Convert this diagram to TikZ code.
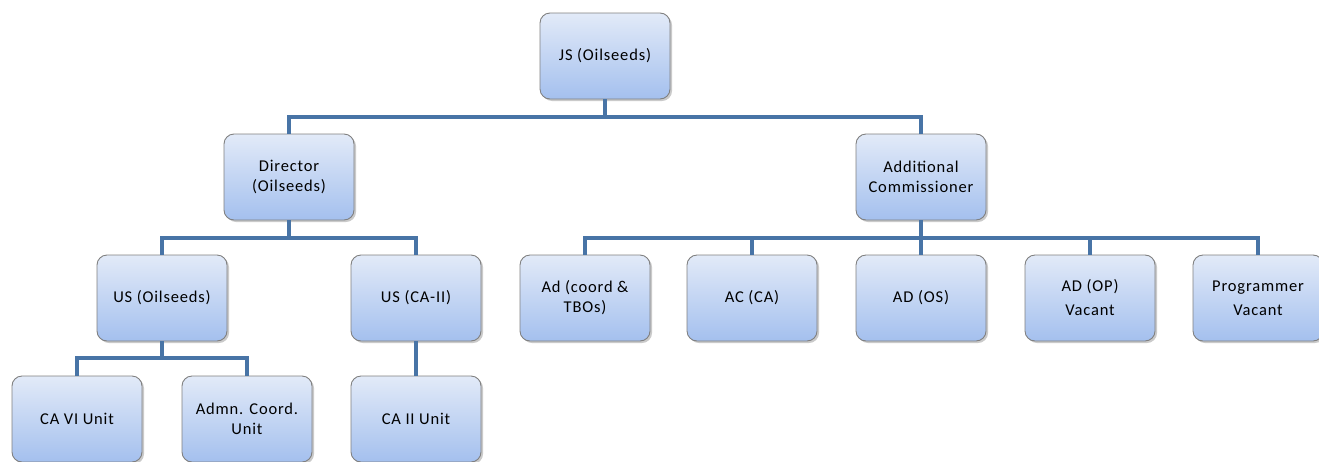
\documentclass[tikz,border=0pt]{standalone}
\usepackage{fontspec}
\setmainfont[LetterSpace=5]{Carlito}
\usetikzlibrary{shadows}
\definecolor{boxtop}{HTML}{E2EAF8}
\definecolor{boxbot}{HTML}{A4C0EE}
\definecolor{boxline}{HTML}{808080}
\definecolor{connblue}{HTML}{4874A6}
\tikzset{
  orgbox/.style={draw=boxline, line width=0.9pt, rounded corners=10pt,
    top color=boxtop, bottom color=boxbot, minimum width=130pt, minimum height=86pt,
    align=center, inner sep=2pt, font=\fontsize{16.5}{20}\selectfont,
    drop shadow={shadow xshift=2pt, shadow yshift=-2pt, opacity=0.35, fill=black!60}},
  conn/.style={draw=connblue, line width=4.5pt}
}
\begin{document}
\begin{tikzpicture}[x=1pt,y=-1pt]
\useasboundingbox (0,0) rectangle (1319,461);
% level 0
\node[orgbox] (js) at (605,56) {JS (Oilseeds)};
% level 1
\node[orgbox] (dir) at (289,177) {Director\\(Oilseeds)};
\node[orgbox] (addl) at (921,177) {Additional\\Commissioner};
% level 2
\node[orgbox] (uso) at (162,298) {US (Oilseeds)};
\node[orgbox] (usca) at (416,298) {US (CA-II)};
\node[orgbox] (adc) at (585,298) {Ad (coord \&\\TBOs)};
\node[orgbox] (acca) at (752,298) {AC (CA)};
\node[orgbox] (ados) at (921,298) {AD (OS)};
\node[orgbox] (adop) at (1090,298) {AD (OP)\\[4pt]Vacant};
\node[orgbox] (prog) at (1258,298) {Programmer\\[4pt]Vacant};
% level 3
\node[orgbox] (cavi) at (77,419) {CA VI Unit};
\node[orgbox] (admn) at (247,419) {Admn. Coord.\\Unit};
\node[orgbox] (caii) at (416,419) {CA II Unit};
% bars
\coordinate (b1) at (0,117);
\coordinate (b2) at (0,238);
\coordinate (b3) at (0,358);
% connectors
\draw[conn] (js.south) -- (js.south |- b1);
\draw[conn] (dir.north) -- (dir.north |- b1) -- (addl.north |- b1) -- (addl.north);
\draw[conn] (dir.south) -- (dir.south |- b2);
\draw[conn] (uso.north) -- (uso.north |- b2) -- (usca.north |- b2) -- (usca.north);
\draw[conn] (addl.south) -- (addl.south |- b2);
\draw[conn] (adc.north) -- (adc.north |- b2) -- (prog.north |- b2) -- (prog.north);
\draw[conn] (acca.north) -- (acca.north |- b2);
\draw[conn] (ados.north) -- (ados.north |- b2);
\draw[conn] (adop.north) -- (adop.north |- b2);
\draw[conn] (uso.south) -- (uso.south |- b3);
\draw[conn] (cavi.north) -- (cavi.north |- b3) -- (admn.north |- b3) -- (admn.north);
\draw[conn] (usca.south) -- (caii.north);
\end{tikzpicture}
\end{document}
